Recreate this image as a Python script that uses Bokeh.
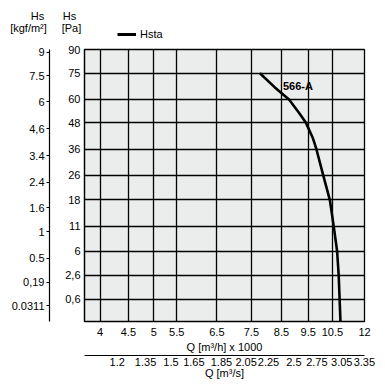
import numpy as np
from bokeh.plotting import figure
from bokeh.layouts import column
from bokeh.models import (LogAxis, LinearAxis, FixedTicker, Range1d, LogScale, Label,
                          Legend, LegendItem)
from bokeh.embed import file_html
from bokeh.resources import INLINE

# ---- data ----
q_kh = [7.77, 8.26, 8.77, 9.14, 9.41, 9.69, 9.83, 10.11, 10.39, 10.56, 10.71, 10.78, 10.86]
hs_pa = [75, 66.8, 60, 53, 48, 40.7, 36, 26, 18, 11, 6, 2.6, 0]
curve_name = "566-A"
legend_name = "Hsta"

q_ticks = [4, 4.5, 5, 5.5, 6.5, 7.5, 8.5, 9.5, 10.5, 12]
q_tick_labels = ["4", "4.5", "5", "5.5", "6.5", "7.5", "8.5", "9.5", "10.5", "12"]
qs_ticks = [1.2, 1.35, 1.5, 1.65, 1.85, 2.05, 2.25, 2.5, 2.75, 3.05, 3.35]
qs_tick_labels = ["1.2", "1.35", "1.5", "1.65", "1.85", "2.05", "2.25", "2.5", "2.75", "3.05", "3.35"]
pa_ticks = [90, 75, 60, 48, 36, 26, 18, 11, 6, 2.6, 0.6]
pa_tick_labels = ["90", "75", "60", "48", "36", "26", "18", "11", "6", "2,6", "0,6"]
kgf_ticks = [9, 7.5, 6, 4.6, 3.4, 2.4, 1.6, 1, 0.5, 0.19, 0.0311]
kgf_tick_labels = ["9", "7.5", "6", "4,6", "3.4", "2.4", "1.6", "1", "0.5", "0,19", "0.0311"]
axis_titles = [("Hs", 37, 15), ("[kgf/m²]", 28, 27), ("Hs", 69, 15), ("[Pa]", 71, 27)]

G = 9.80665          # kgf/m2 -> Pa
QS_FACTOR = 3.58     # (m3/h x 1000) per (m3/s) as drawn
FONT = "Liberation Sans"
FS = "11px"

X0, X1 = 3.75, 12.0
SMAX = float(np.sqrt(90))
FW, FH = 280, 272
TOTAL_W = 381
HEAD_H = 44


def style_axis(ax, tick_out=0):
    ax.major_label_text_font = FONT
    ax.major_label_text_font_size = FS
    ax.major_label_text_color = "black"
    ax.axis_label_text_font = FONT
    ax.axis_label_text_font_size = FS
    ax.axis_label_text_color = "black"
    ax.axis_label_text_font_style = "normal"
    ax.minor_tick_line_color = None
    ax.major_tick_in = 0
    ax.major_tick_out = tick_out
    ax.major_tick_line_color = "black"
    ax.axis_line_color = "black"
    ax.axis_line_width = 1.2


pa_pos = [float(np.sqrt(v)) for v in pa_ticks]
kgf_pos = [float(np.sqrt(v * G)) for v in kgf_ticks]
curve_y = np.sqrt(np.array(hs_pa, dtype=float))

p = figure(frame_width=FW, frame_height=FH, x_axis_type="log",
           x_range=Range1d(X0, X1), y_range=Range1d(0, SMAX),
           output_backend="svg", toolbar_location=None,
           min_border_left=84, min_border_right=TOTAL_W - 84 - FW,
           min_border_top=5, min_border_bottom=66)
p.frame_align = False
p.background_fill_color = "#ebecec"
p.border_fill_color = "white"
p.outline_line_color = "black"
p.outline_line_width = 1.3

# grid
p.xgrid.ticker = FixedTicker(ticks=q_ticks)
p.ygrid.ticker = FixedTicker(ticks=pa_pos)
for g in (p.xgrid, p.ygrid):
    g.grid_line_color = "black"
    g.grid_line_width = 1.3
    g.grid_line_alpha = 1.0

# main x axis (m3/h x 1000)
xa = p.xaxis[0]
xa.ticker = FixedTicker(ticks=q_ticks)
xa.major_label_overrides = {float(t): l for t, l in zip(q_ticks, q_tick_labels)}
xa.axis_label = "Q [m³/h] x 1000"
style_axis(xa)
xa.major_label_standoff = 6
xa.axis_label_standoff = 2

# second x axis (m3/s)
p.extra_x_ranges = {"qs": Range1d(X0 / QS_FACTOR, X1 / QS_FACTOR)}
p.extra_x_scales = {"qs": LogScale()}
xb = LogAxis(x_range_name="qs", ticker=FixedTicker(ticks=qs_ticks), axis_label="Q [m³/s]")
xb.major_label_overrides = {float(t): l for t, l in zip(qs_ticks, qs_tick_labels)}
style_axis(xb)
xb.major_label_standoff = 2
xb.axis_label_standoff = -2
p.add_layout(xb, "below")

# Pa axis
ya = p.yaxis[0]
ya.ticker = FixedTicker(ticks=pa_pos)
ya.major_label_overrides = {t: l for t, l in zip(pa_pos, pa_tick_labels)}
style_axis(ya)
ya.major_label_standoff = 4
ya.axis_label = " "
ya.axis_label_text_font_size = "9px"
ya.axis_label_standoff = 0

# kgf axis
yb = LinearAxis(ticker=FixedTicker(ticks=kgf_pos))
yb.major_label_overrides = {t: l for t, l in zip(kgf_pos, kgf_tick_labels)}
style_axis(yb, tick_out=3)
yb.major_label_standoff = 2
p.add_layout(yb, "left")

# curve
r = p.line(q_kh, curve_y, line_color="black", line_width=2.6, line_join="round")

p.add_layout(Label(x=8.55, y=float(np.sqrt(67.5)), text=curve_name, text_font=FONT,
                   text_font_size=FS, text_font_style="bold", text_color="black",
                   text_baseline="middle"))

# ---- header strip: axis titles and legend ----
h = figure(width=TOTAL_W, height=HEAD_H, x_range=Range1d(0, TOTAL_W), y_range=Range1d(HEAD_H, 0),
           output_backend="svg", toolbar_location=None, min_border=0,
           min_border_left=0, min_border_right=0, min_border_top=0, min_border_bottom=0,
           x_axis_location=None, y_axis_location=None)
h.frame_align = False
h.grid.visible = False
h.outline_line_color = None
h.background_fill_color = "white"
h.border_fill_color = "white"

for txt, cx, cy in axis_titles:
    h.add_layout(Label(x=cx, y=cy, text=txt, text_font=FONT, text_font_size=FS,
                       text_color="black", text_align="center", text_baseline="middle"))

# legend swatch: same series, hidden in the header strip, shown only in the legend
r_leg = h.line(q_kh, curve_y, line_color="black", line_width=3, visible=False)
legend = Legend(items=[LegendItem(label=legend_name, renderers=[r_leg])], location=(117, 4),
                background_fill_alpha=0, border_line_color=None, padding=0, margin=0,
                glyph_width=19, glyph_height=10, label_standoff=4, label_height=10,
                inactive_fill_alpha=0,
                label_text_font=FONT, label_text_font_size=FS, label_text_color="black")
h.add_layout(legend)

layout = column(h, p, spacing=0)
open("out.html", "w").write(file_html(layout, INLINE))
